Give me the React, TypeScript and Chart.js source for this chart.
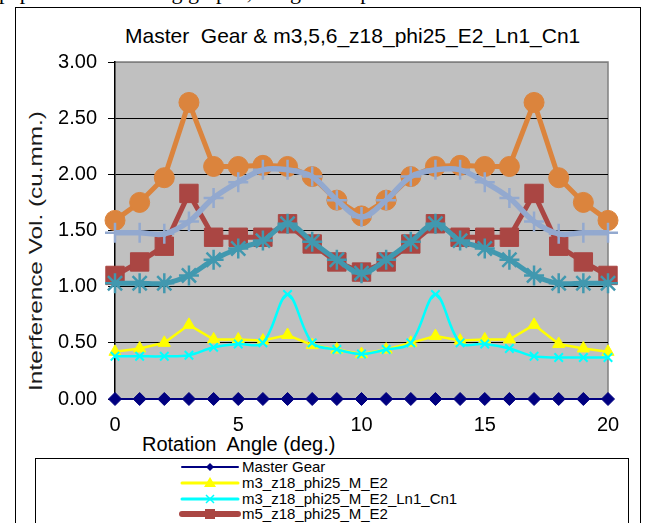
import React, { useEffect, useRef } from 'react';
import { Chart, registerables } from 'chart.js';

Chart.register(...registerables);

// ---------- data ----------
const angles = [0, 1, 2, 3, 4, 5, 6, 7, 8, 9, 10, 11, 12, 13, 14, 15, 16, 17, 18, 19, 20];
const xTickValues = [0, 5, 10, 15, 20];

const masterGear = [0, 0, 0, 0, 0, 0, 0, 0, 0, 0, 0, 0, 0, 0, 0, 0, 0, 0, 0, 0, 0];
const m3_M_E2 = [0.42, 0.45, 0.5, 0.66, 0.53, 0.53, 0.52, 0.57, 0.48, 0.44, 0.4, 0.44, 0.5, 0.56, 0.52, 0.53, 0.53, 0.66, 0.49, 0.45, 0.42];
const m3_M_E2_Ln1_Cn1 = [0.38, 0.38, 0.38, 0.39, 0.46, 0.49, 0.5, 0.93, 0.5, 0.44, 0.4, 0.44, 0.5, 0.93, 0.5, 0.49, 0.45, 0.38, 0.37, 0.37, 0.37];
const m5_M_E2 = [1.1, 1.22, 1.36, 1.83, 1.44, 1.44, 1.44, 1.56, 1.38, 1.22, 1.13, 1.22, 1.38, 1.56, 1.44, 1.44, 1.44, 1.83, 1.36, 1.22, 1.1];
const m5_M_E2_Ln1_Cn1 = [1.03, 1.03, 1.03, 1.1, 1.24, 1.34, 1.41, 1.56, 1.4, 1.24, 1.12, 1.24, 1.4, 1.56, 1.41, 1.34, 1.24, 1.1, 1.03, 1.03, 1.03];
const m6_M_E2 = [1.59, 1.75, 1.97, 2.64, 2.07, 2.07, 2.08, 2.07, 1.98, 1.77, 1.63, 1.77, 1.98, 2.07, 2.08, 2.07, 2.07, 2.64, 1.97, 1.75, 1.59];
const m6_M_E2_Ln1_Cn1 = [1.48, 1.48, 1.47, 1.58, 1.79, 1.93, 2.04, 2.04, 1.98, 1.77, 1.62, 1.77, 1.98, 2.04, 2.04, 1.93, 1.79, 1.58, 1.47, 1.48, 1.48];

const seriesNames = [
  'Master Gear',
  'm3_z18_phi25_M_E2',
  'm3_z18_phi25_M_E2_Ln1_Cn1',
  'm5_z18_phi25_M_E2',
  'm5_z18_phi25_M_E2_Ln1_Cn1',
  'm6_z18_phi25_M_E2',
  'm6_z18_phi25_M_E2_Ln1_Cn1',
];
const seriesValues = [masterGear, m3_M_E2, m3_M_E2_Ln1_Cn1, m5_M_E2, m5_M_E2_Ln1_Cn1, m6_M_E2, m6_M_E2_Ln1_Cn1];

const chartTitle = 'Master  Gear & m3,5,6_z18_phi25_E2_Ln1_Cn1';
const xTitle = 'Rotation  Angle (deg.)';
const yTitle = 'Interference Vol. (cu.mm.)';

// ---------- styles ----------
type Style = {
  color: string;
  lineWidth: number;
  pointStyle: string;
  radius: number;
  pointBorderWidth: number;
  tension: number;
};
const styles: Style[] = [
  { color: '#000080', lineWidth: 2, pointStyle: 'rectRot', radius: 6.5, pointBorderWidth: 1, tension: 0 },
  { color: '#FFFF00', lineWidth: 2.5, pointStyle: 'triangle', radius: 7, pointBorderWidth: 1, tension: 0 },
  { color: '#00FFFF', lineWidth: 2.5, pointStyle: 'crossRot', radius: 6, pointBorderWidth: 2, tension: 0.35 },
  { color: '#AA4643', lineWidth: 5, pointStyle: 'rect', radius: 13, pointBorderWidth: 1, tension: 0 },
  { color: '#4198AF', lineWidth: 5, pointStyle: 'star', radius: 10, pointBorderWidth: 2.5, tension: 0.35 },
  { color: '#DB843D', lineWidth: 5, pointStyle: 'circle', radius: 10, pointBorderWidth: 1, tension: 0 },
  { color: '#93A9CF', lineWidth: 5.5, pointStyle: 'cross', radius: 10, pointBorderWidth: 2.5, tension: 0.35 },
];

const FONT = "'Liberation Sans', Arial, sans-serif";

const plotBg = {
  id: 'plotBg',
  beforeDraw(chart: any) {
    const { ctx, chartArea: a } = chart;
    ctx.save();
    ctx.fillStyle = '#C0C0C0';
    ctx.fillRect(a.left, a.top, a.right - a.left, a.bottom - a.top);
    ctx.strokeStyle = '#808080';
    ctx.lineWidth = 1.5;
    ctx.beginPath();
    ctx.moveTo(a.left, a.top);
    ctx.lineTo(a.right, a.top);
    ctx.lineTo(a.right, a.bottom);
    ctx.stroke();
    ctx.restore();
  },
};

function LegendMarker({ i }: { i: number }) {
  const s = styles[i];
  const cx = 28, cy = 8;
  let marker: React.ReactNode = null;
  if (s.pointStyle === 'rectRot') {
    marker = <polygon points={`${cx},${cy - 4} ${cx + 4},${cy} ${cx},${cy + 4} ${cx - 4},${cy}`} fill={s.color} />;
  } else if (s.pointStyle === 'triangle') {
    marker = <polygon points={`${cx},${cy - 6} ${cx + 6},${cy + 4} ${cx - 6},${cy + 4}`} fill={s.color} />;
  } else if (s.pointStyle === 'crossRot') {
    marker = <path d={`M${cx - 4} ${cy - 4} L${cx + 4} ${cy + 4} M${cx + 4} ${cy - 4} L${cx - 4} ${cy + 4}`} stroke={s.color} strokeWidth={1.5} />;
  } else if (s.pointStyle === 'rect') {
    marker = <rect x={cx - 5} y={cy - 5} width={10} height={10} fill={s.color} />;
  } else if (s.pointStyle === 'star') {
    marker = <path d={`M${cx - 5} ${cy - 5} L${cx + 5} ${cy + 5} M${cx + 5} ${cy - 5} L${cx - 5} ${cy + 5} M${cx} ${cy - 6} L${cx} ${cy + 6}`} stroke={s.color} strokeWidth={1.5} />;
  } else if (s.pointStyle === 'circle') {
    marker = <circle cx={cx} cy={cy} r={5} fill={s.color} />;
  } else {
    marker = <path d={`M${cx - 6} ${cy} L${cx + 6} ${cy} M${cx} ${cy - 6} L${cx} ${cy + 6}`} stroke={s.color} strokeWidth={1.5} />;
  }
  const lw = i === 0 ? 2 : i < 3 ? 3 : 6;
  return (
    <svg width={56} height={16} style={{ display: 'block', overflow: 'visible' }}>
      <line x1={0} y1={cy} x2={56} y2={cy} stroke={s.color} strokeWidth={lw} strokeLinecap="round" />
      {marker}
    </svg>
  );
}

export default function App() {
  const canvasRef = useRef<HTMLCanvasElement | null>(null);

  useEffect(() => {
    const canvas = canvasRef.current;
    if (!canvas) return;
    const datasets = seriesNames.map((name, i) => {
      const s = styles[i];
      return {
        label: name,
        data: angles.map((a, k) => ({ x: a, y: seriesValues[i][k] })),
        borderColor: s.color,
        backgroundColor: s.color,
        borderWidth: s.lineWidth,
        pointStyle: s.pointStyle as any,
        pointRadius: s.radius,
        pointBorderWidth: s.pointBorderWidth,
        pointBackgroundColor: s.color,
        pointBorderColor: s.color,
        tension: s.tension,
        clip: false as any,
        order: 10 - i,
      };
    });
    const chart = new Chart(canvas, {
      type: 'line',
      data: { datasets },
      plugins: [plotBg],
      options: {
        animation: false,
        responsive: false,
        maintainAspectRatio: false,
        devicePixelRatio: 1,
        layout: { padding: { left: 0, top: 62, right: 38, bottom: 74 } },
        plugins: { legend: { display: false }, tooltip: { enabled: false }, title: { display: false } },
        scales: {
          x: {
            type: 'linear',
            min: 0,
            max: 20,
            afterBuildTicks: (scale: any) => {
              scale.ticks = xTickValues.map((v) => ({ value: v }));
            },
            ticks: { font: { family: FONT, size: 20 }, color: '#000', padding: 14, maxRotation: 0 },
            grid: { display: false, drawTicks: false },
            border: { display: true, color: '#000', width: 1 },
            afterFit: (scale: any) => {
              scale.height = 50;
            },
          },
          y: {
            min: 0,
            max: 3,
            ticks: {
              stepSize: 0.5,
              font: { family: FONT, size: 20 },
              color: '#000',
              padding: 11,
              callback: (v: any) => Number(v).toFixed(2),
            },
            grid: {
              color: (ctx: any) => (ctx.tick && ctx.tick.value === 3 ? '#808080' : '#000'),
              tickColor: '#000',
              lineWidth: 1,
              tickLength: 7,
              drawTicks: true,
            },
            border: { display: true, color: '#000', width: 1.5 },
            afterFit: (scale: any) => {
              scale.width = 115;
            },
          },
        },
      },
    } as any);
    return () => chart.destroy();
  }, []);

  return (
    <div style={{ position: 'absolute', left: 0, top: 0, width: 646, height: 523, overflow: 'hidden', background: '#fff' }}>
      <div
        style={{
          position: 'absolute', left: -1, top: -19, whiteSpace: 'nowrap',
          font: "22px 'Liberation Serif', 'Times New Roman', serif", lineHeight: '22px', color: '#000',
        }}
      >
        paper. The following graphs, the general procedure is as follows.
      </div>
      <div style={{ position: 'absolute', left: 15, top: 7, width: 624, height: 600, border: '1px solid #000' }} />
      <div
        style={{
          position: 'absolute', left: 125, top: 25, whiteSpace: 'pre',
          font: `21px ${FONT}`, lineHeight: '21px', color: '#000',
        }}
      >
        {chartTitle}
      </div>
      <div
        style={{
          position: 'absolute', left: 35, top: 251, whiteSpace: 'nowrap',
          font: `19px ${FONT}`, lineHeight: '19px', color: '#1a1a1a',
          transform: 'translate(-50%, -50%) rotate(-90deg) scaleX(1.28)',
        }}
      >
        {yTitle}
      </div>
      <div
        style={{
          position: 'absolute', left: 142, top: 434, whiteSpace: 'pre',
          font: `20px ${FONT}`, lineHeight: '20px', color: '#000',
        }}
      >
        {xTitle}
      </div>
      <div style={{ position: 'absolute', left: 35, top: 458, width: 592, height: 200, border: '1px solid #000' }}>
        {seriesNames.map((name, i) => (
          <div key={name} style={{ position: 'absolute', left: 146, top: i * 15.8, height: 15.8, display: 'flex', alignItems: 'center' }}>
            <LegendMarker i={i} />
            <span style={{ marginLeft: 4, font: `15px ${FONT}`, lineHeight: '15.8px', whiteSpace: 'nowrap', color: '#000' }}>{name}</span>
          </div>
        ))}
      </div>
      <canvas ref={canvasRef} width={646} height={523} style={{ position: 'absolute', left: 0, top: 0, width: 646, height: 523 }} />
    </div>
  );
}
